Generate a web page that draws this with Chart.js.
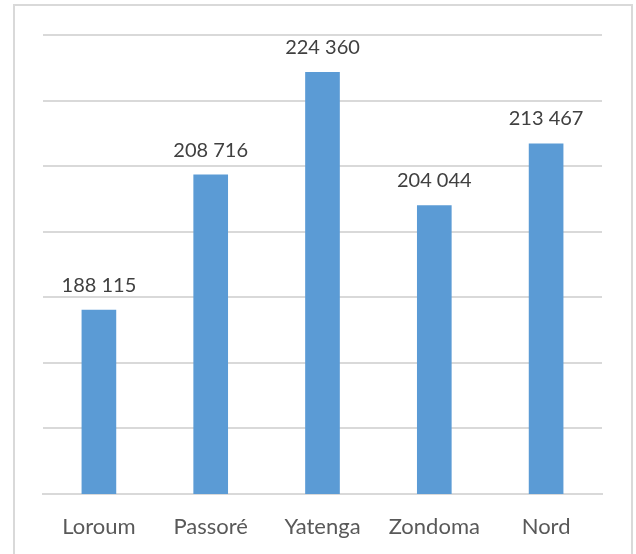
<!DOCTYPE html>
<html lang="fr">
<head>
  <meta charset="UTF-8">
  <title>Population par province</title>
  <script src="https://cdn.jsdelivr.net/npm/chart.js"></script>
  <style>
    body {
      margin: 0;
      background: #ffffff;
      overflow: hidden;
    }

    #frame {
      position: absolute;
      left: 13px;
      top: 4px;
      width: 616px;
      height: 570px;
      border: 2px solid #d9d9d9;
    }

    #popChart {
      position: absolute;
      left: 0;
      top: 0;
    }
  </style>
</head>
<body>

  <div id="frame"></div>
  <canvas id="popChart" width="636" height="554"></canvas>

  <script>
    const provinces = ['Loroum', 'Passoré', 'Yatenga', 'Zondoma', 'Nord'];
    const population = [188115, 208716, 224360, 204044, 213467];

    // "188 115" style labels
    function formatNumber(n) {
      return String(n).replace(/\B(?=(\d{3})+(?!\d))/g, ' ');
    }

    const valueLabels = {
      id: 'valueLabels',
      afterDatasetsDraw(chart) {
        const ctx = chart.ctx;
        const meta = chart.getDatasetMeta(0);
        ctx.save();
        ctx.font = '20px Lato';
        ctx.fillStyle = '#404040';
        ctx.textAlign = 'center';
        ctx.textBaseline = 'alphabetic';
        meta.data.forEach((bar, i) => {
          ctx.fillText(formatNumber(population[i]), bar.x, bar.y - 18);
        });
        ctx.restore();
      }
    };

    const ctx = document.getElementById('popChart').getContext('2d');
    new Chart(ctx, {
      type: 'bar',
      data: {
        labels: provinces,
        datasets: [{
          data: population,
          backgroundColor: '#5b9bd5',
          categoryPercentage: 1,
          barPercentage: 0.31
        }]
      },
      options: {
        responsive: false,
        animation: false,
        layout: {
          padding: { left: 43, right: 34, top: 35, bottom: 0 }
        },
        plugins: {
          legend: { display: false },
          tooltip: { enabled: false }
        },
        scales: {
          x: {
            grid: { display: false },
            border: { color: '#d9d9d9', width: 2 },
            ticks: {
              color: '#595959',
              font: { family: 'Lato', size: 22 },
              padding: 12
            },
            afterFit(scale) {
              scale.height = 60;
            }
          },
          y: {
            min: 160000,
            max: 230000,
            ticks: { display: false, stepSize: 10000 },
            border: { display: false },
            grid: { color: '#d9d9d9', lineWidth: 2, drawTicks: false }
          }
        }
      },
      plugins: [valueLabels]
    });
  </script>

</body>
</html>
